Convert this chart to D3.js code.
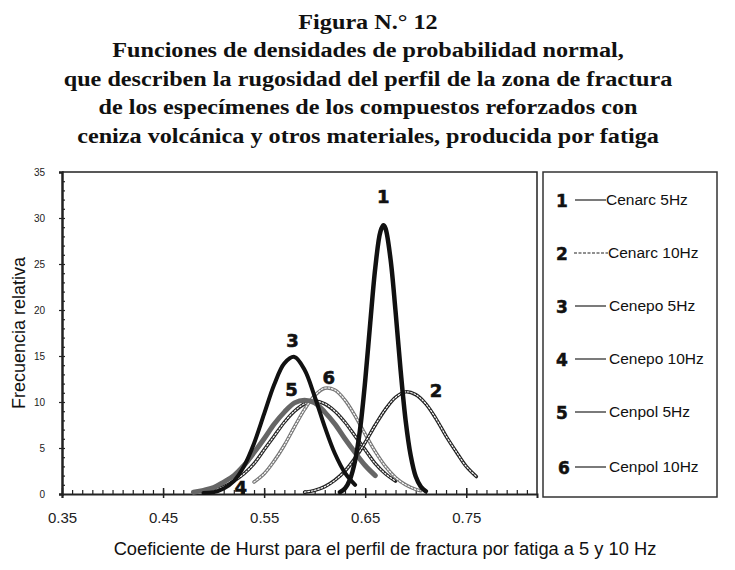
<!DOCTYPE html>
<html>
<head>
<meta charset="utf-8">
<script src="https://cdn.jsdelivr.net/npm/d3@7"></script>
<style>
  body { margin: 0; background: #fff; }
  svg { display: block; }
</style>
</head>
<body>
<svg id="chart"></svg>
<script>
// values
const titleLines = [
  "Figura N.° 12",
  "Funciones de densidades de probabilidad normal,",
  "que describen la rugosidad del perfil de la zona de fractura",
  "de los especímenes de los compuestos reforzados con",
  "ceniza volcánica y otros materiales, producida por fatiga"
];
const xTicks = [0.35, 0.45, 0.55, 0.65, 0.75];
const yTicks = [0, 5, 10, 15, 20, 25, 30, 35];

const names = ["Cenarc 5Hz", "Cenarc 10Hz", "Cenepo 5Hz", "Cenepo 10Hz", "Cenpol 5Hz", "Cenpol 10Hz"];

// curve 1
const x1 = [0.625, 0.63, 0.635, 0.64, 0.645, 0.65, 0.655, 0.66, 0.665, 0.668, 0.67, 0.675, 0.68, 0.685, 0.69, 0.695, 0.70, 0.705, 0.71];
const y1 = [0.2, 0.6, 1.6, 3.6, 7.1, 12.3, 18.6, 24.6, 28.5, 29.2, 28.9, 25.6, 19.9, 13.5, 8.0, 4.2, 1.9, 0.8, 0.3];
// curve 2
const x2 = [0.59, 0.60, 0.61, 0.62, 0.63, 0.64, 0.65, 0.66, 0.67, 0.68, 0.69, 0.70, 0.71, 0.72, 0.73, 0.74, 0.75, 0.76];
const y2 = [0.2, 0.4, 0.8, 1.5, 2.5, 3.9, 5.6, 7.5, 9.2, 10.5, 11.1, 10.8, 9.8, 8.2, 6.3, 4.6, 3.0, 1.9];
// curve 3
const x3 = [0.49, 0.50, 0.51, 0.52, 0.53, 0.54, 0.55, 0.56, 0.57, 0.58, 0.59, 0.60, 0.61, 0.62, 0.63, 0.64];
const y3 = [0.1, 0.2, 0.6, 1.4, 3.0, 5.5, 8.7, 11.9, 14.2, 14.9, 13.5, 10.6, 7.3, 4.4, 2.3, 1.0];
// curve 4
const x4 = [0.49, 0.50, 0.51, 0.52, 0.53, 0.54, 0.55, 0.56, 0.57, 0.58, 0.59, 0.60, 0.61, 0.62, 0.63, 0.64, 0.65, 0.66, 0.67, 0.68];
const y4 = [0.2, 0.4, 0.8, 1.4, 2.2, 3.3, 4.8, 6.3, 7.8, 9.0, 9.8, 10.1, 9.8, 9.0, 7.8, 6.3, 4.8, 3.3, 2.2, 1.4];
// curve 5
const x5 = [0.48, 0.49, 0.50, 0.51, 0.52, 0.53, 0.54, 0.55, 0.56, 0.57, 0.58, 0.59, 0.60, 0.61, 0.62, 0.63, 0.64, 0.65, 0.66];
const y5 = [0.2, 0.4, 0.7, 1.3, 2.0, 3.1, 4.5, 6.0, 7.6, 8.9, 9.9, 10.2, 9.9, 8.9, 7.6, 6.0, 4.5, 3.1, 2.0];
// curve 6
const x6 = [0.54, 0.55, 0.56, 0.57, 0.58, 0.59, 0.60, 0.61, 0.62, 0.63, 0.64, 0.65, 0.66, 0.67, 0.68, 0.69, 0.70, 0.705];
const y6 = [1.3, 2.2, 3.6, 5.3, 7.3, 9.2, 10.7, 11.5, 11.3, 10.2, 8.5, 6.5, 4.6, 3.0, 1.8, 1.0, 0.5, 0.35];

// label anchors (data units)
const labelX = [0.668, 0.72, 0.578, 0.527, 0.577, 0.614];
const labelY = [31.6, 10.5, 16.0, 0.0, 10.6, 12.0];

const width = 735, height = 570;
const svg = d3.select("#chart").attr("width", width).attr("height", height);

// title
svg.append("g")
  .attr("transform", "translate(368,0) scale(1.1,1)")
  .selectAll("text")
  .data(titleLines)
  .enter().append("text")
  .attr("x", 0)
  .attr("y", (d, i) => 29 + i * 28.5)
  .attr("text-anchor", "middle")
  .attr("font-family", "Liberation Serif, serif")
  .attr("font-weight", "bold")
  .attr("font-size", 22)
  .attr("fill", "#111")
  .text(d => d);

const plot = { left: 62, right: 537, top: 172, bottom: 494 };
const x = d3.scaleLinear().domain([0.35, 0.82]).range([plot.left, plot.right]);
const y = d3.scaleLinear().domain([0, 35]).range([plot.bottom, plot.top]);

// frame
svg.append("path")
  .attr("d", `M${plot.left},${plot.top}H${plot.right}V${plot.bottom + 1}`)
  .attr("fill", "none").attr("stroke", "#222").attr("stroke-width", 1.5);

// minor ticks
const xMinor = d3.range(36, 82).map(v => v / 100);
svg.append("g").attr("transform", `translate(0,${plot.bottom})`)
  .call(d3.axisTop(x).tickValues(xMinor).tickSize(4).tickFormat(""))
  .call(g => g.select(".domain").remove())
  .call(g => g.selectAll("line").attr("stroke", "#222").attr("stroke-width", 1.2));
const yMinor = d3.range(1, 35);
svg.append("g").attr("transform", `translate(${plot.left},0)`)
  .call(d3.axisRight(y).tickValues(yMinor).tickSize(3).tickFormat(""))
  .call(g => g.select(".domain").remove())
  .call(g => g.selectAll("line").attr("stroke", "#222").attr("stroke-width", 1.2));

// x axis
svg.append("g").attr("transform", `translate(0,${plot.bottom})`)
  .call(d3.axisBottom(x).tickValues(xTicks).tickSize(4).tickPadding(14).tickFormat(d3.format(".2f")))
  .call(g => g.select(".domain").attr("stroke", "#222").attr("stroke-width", 2))
  .call(g => g.selectAll("line").attr("stroke", "#222").attr("stroke-width", 1.5).attr("y1", -6))
  .call(g => g.selectAll("text").attr("font-family", "Liberation Sans, Arial, sans-serif").attr("font-size", 15).attr("fill", "#222"));

// y axis
svg.append("g").attr("transform", `translate(${plot.left},0)`)
  .call(d3.axisLeft(y).tickValues(yTicks).tickSize(3).tickPadding(14))
  .call(g => g.select(".domain").attr("stroke", "#222").attr("stroke-width", 2.5))
  .call(g => g.selectAll("line").attr("stroke", "#222").attr("stroke-width", 1.2))
  .call(g => g.selectAll("text").attr("font-family", "Liberation Sans Narrow, Liberation Sans, sans-serif").attr("font-size", 10).attr("fill", "#222"));

// axis titles
svg.append("text")
  .attr("transform", "translate(25,333) rotate(-90)")
  .attr("text-anchor", "middle")
  .attr("font-family", "Liberation Sans, Arial, sans-serif")
  .attr("font-size", 18).attr("fill", "#111")
  .text("Frecuencia relativa");
svg.append("text")
  .attr("x", 385).attr("y", 555)
  .attr("text-anchor", "middle")
  .attr("font-family", "Liberation Sans, Arial, sans-serif")
  .attr("font-size", 18.3).attr("fill", "#111")
  .text("Coeficiente de Hurst para el perfil de fractura por fatiga a 5 y 10 Hz");

// curves
const series = [
  { xs: x1, ys: y1, color: "#111", w: 4.5, chain: false },
  { xs: x2, ys: y2, color: "#222", w: 3.5, chain: true },
  { xs: x3, ys: y3, color: "#111", w: 4, chain: false },
  { xs: x4, ys: y4, color: "#222", w: 3.5, chain: true },
  { xs: x5, ys: y5, color: "#666", w: 5, chain: false },
  { xs: x6, ys: y6, color: "#777", w: 3.5, chain: true }
];
const line = d3.line().x(d => x(d[0])).y(d => y(d[1])).curve(d3.curveCatmullRom);
const drawOrder = [3, 5, 1, 4, 2, 0];
const curves = svg.append("g").attr("fill", "none").attr("stroke-linecap", "round").attr("stroke-linejoin", "round");
drawOrder.forEach(i => {
  const s = series[i];
  const pts = s.xs.map((v, k) => [v, s.ys[k]]);
  curves.append("path").datum(pts).attr("d", line)
    .attr("stroke", s.color).attr("stroke-width", s.w);
  if (s.chain) {
    curves.append("path").datum(pts).attr("d", line)
      .attr("stroke", "#fff").attr("stroke-width", 1.2)
      .attr("stroke-dasharray", "1.6 1.8");
  }
});

// curve labels
svg.append("g").selectAll("text")
  .data(labelX)
  .enter().append("text")
  .attr("x", d => x(d))
  .attr("y", (d, i) => y(labelY[i]))
  .attr("text-anchor", "middle")
  .attr("font-family", "DejaVu Sans, sans-serif")
  .attr("font-weight", "900")
  .attr("font-size", 18).attr("fill", "#111")
  .attr("stroke", "#111").attr("stroke-width", 0.6)
  .text((d, i) => i + 1);

// legend
const lg = { left: 543, right: 717, top: 172, bottom: 497 };
svg.append("rect")
  .attr("x", lg.left).attr("y", lg.top)
  .attr("width", lg.right - lg.left).attr("height", lg.bottom - lg.top)
  .attr("fill", "none").attr("stroke", "#333").attr("stroke-width", 1.5);
const legendRows = [200, 253, 306, 359, 412, 467];
const items = svg.append("g").selectAll("g")
  .data(names)
  .enter().append("g")
  .attr("transform", (d, i) => `translate(0,${legendRows[i]})`);
items.append("text")
  .attr("x", (d, i) => i === 5 ? 564 : 562).attr("y", 7)
  .attr("text-anchor", "middle")
  .attr("font-family", "DejaVu Sans, sans-serif")
  .attr("font-weight", "bold").attr("font-size", 17).attr("fill", "#111")
  .attr("stroke", "#111").attr("stroke-width", 0.5)
  .text((d, i) => i + 1);
items.append("line")
  .attr("x1", (d, i) => i === 1 ? 574 : 575).attr("x2", (d, i) => i === 1 ? 608 : 606)
  .attr("y1", 0).attr("y2", 0)
  .attr("stroke", "#222").attr("stroke-width", 1.2)
  .attr("stroke-dasharray", (d, i) => i === 1 ? "3 1.5" : null);
items.append("text")
  .attr("x", (d, i) => i === 0 ? 606 : (i === 1 ? 608 : 609)).attr("y", 5)
  .attr("font-family", "Liberation Sans, Arial, sans-serif")
  .attr("font-size", 15.5).attr("fill", "#111")
  .text(d => d);
</script>
</body>
</html>
